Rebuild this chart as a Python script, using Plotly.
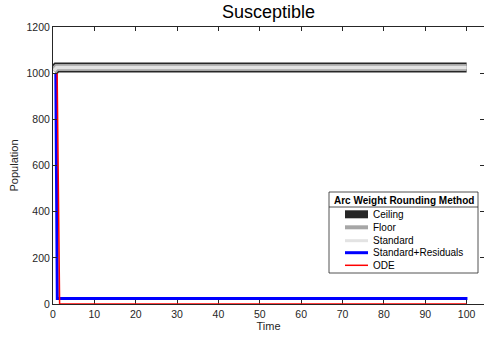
import plotly.graph_objects as go

# ---- data ----
t_ceiling = [0.15, 0.9, 100.0]
s_ceiling = [1010, 1025, 1025]
t_floor = [0.15, 0.9, 100.0]
s_floor = [1010, 1025, 1025]
t_standard = [0.15, 0.9, 100.0]
s_standard = [1010, 1025, 1025]
t_resid = [0.68, 1.04, 10, 20, 30, 40, 50, 60, 70, 80, 90, 100.2]
s_resid = [1000, 24, 24, 24, 24, 24, 24, 24, 24, 24, 24, 24]
t_ode = [1.0, 1.6, 100.0]
s_ode = [1000, 0, 0]

series_names = ["Ceiling", "Floor", "Standard", "Standard+Residuals", "ODE"]
series_colors = ["#262626", "#a6a6a6", "#e3e3e3", "#0000ff", "#ff0000"]
plot_widths = [10, 7, 3.5, 3, 1.5]
legend_widths = [8, 4, 3, 3, 1.5]

x_ticks = [0, 10, 20, 30, 40, 50, 60, 70, 80, 90, 100]
y_ticks = [0, 200, 400, 600, 800, 1000, 1200]

W, H = 484, 339
L, R, T, B = 53, 0, 27, 35
pw, ph = W - L - R, H - T - B

def px(xp):
    return (xp - L) / pw

def py(yp):
    return (H - B - yp) / ph

fig = go.Figure()
data = [(t_ceiling, s_ceiling), (t_floor, s_floor), (t_standard, s_standard),
        (t_resid, s_resid), (t_ode, s_ode)]
for (tx, sy), name, col, lw in zip(data, series_names, series_colors, plot_widths):
    fig.add_trace(go.Scatter(x=tx, y=sy, mode="lines", name=name,
                             line=dict(color=col, width=lw), showlegend=False))

axis_common = dict(showgrid=False, zeroline=False, showline=True, linecolor="#262626",
                   linewidth=1, mirror="ticks", ticks="inside", ticklen=4,
                   tickcolor="#262626", tickfont=dict(size=10.5, color="#262626"))

fig.update_layout(
    width=W, height=H,
    margin=dict(l=L, r=R, t=T, b=B),
    paper_bgcolor="white", plot_bgcolor="white",
    font=dict(family="Liberation Sans, Arial, sans-serif", color="#262626"),
    title=dict(text="Susceptible", x=0.5, xanchor="center", xref="paper",
               y=1 - 12 / H, yanchor="middle", font=dict(size=18, color="black")),
    xaxis=dict(range=[0, 104.2], tickvals=x_ticks, layer="below traces",
               title=dict(text="Time", font=dict(size=11, color="#262626"), standoff=3),
               **axis_common),
    yaxis=dict(range=[0, 1200], tickvals=y_ticks,
               title=dict(text="Population", font=dict(size=11, color="#262626"), standoff=5),
               **axis_common),
)

# ---- legend (drawn by hand for MATLAB-like compact spacing) ----
box_x0, box_x1, box_y0, box_y1 = 329, 478, 192, 273
fig.add_shape(type="rect", xref="paper", yref="paper",
              x0=px(box_x0), x1=px(box_x1), y0=py(box_y0), y1=py(box_y1),
              line=dict(color="#262626", width=0.8), fillcolor="white", layer="above")
fig.add_shape(type="line", xref="paper", yref="paper",
              x0=px(box_x0), x1=px(box_x1), y0=py(207), y1=py(207),
              line=dict(color="#262626", width=0.8), layer="above")
fig.add_annotation(text="<b>Arc Weight Rounding Method</b>", xref="paper", yref="paper",
                   x=px((box_x0 + box_x1) / 2), y=py(200.5), xanchor="center", yanchor="middle",
                   showarrow=False, font=dict(size=10, color="black"))
entry_y = [214.3, 227.3, 240.7, 252.7, 265.3]
for name, col, lw, ey in zip(series_names, series_colors, legend_widths, entry_y):
    fig.add_shape(type="line", xref="paper", yref="paper",
                  x0=px(345), x1=px(368), y0=py(ey), y1=py(ey),
                  line=dict(color=col, width=lw), layer="above")
    fig.add_annotation(text=name, xref="paper", yref="paper", x=px(371), y=py(ey),
                       xanchor="left", yanchor="middle", showarrow=False,
                       font=dict(size=10, color="black"))

fig.write_html("out.html")
